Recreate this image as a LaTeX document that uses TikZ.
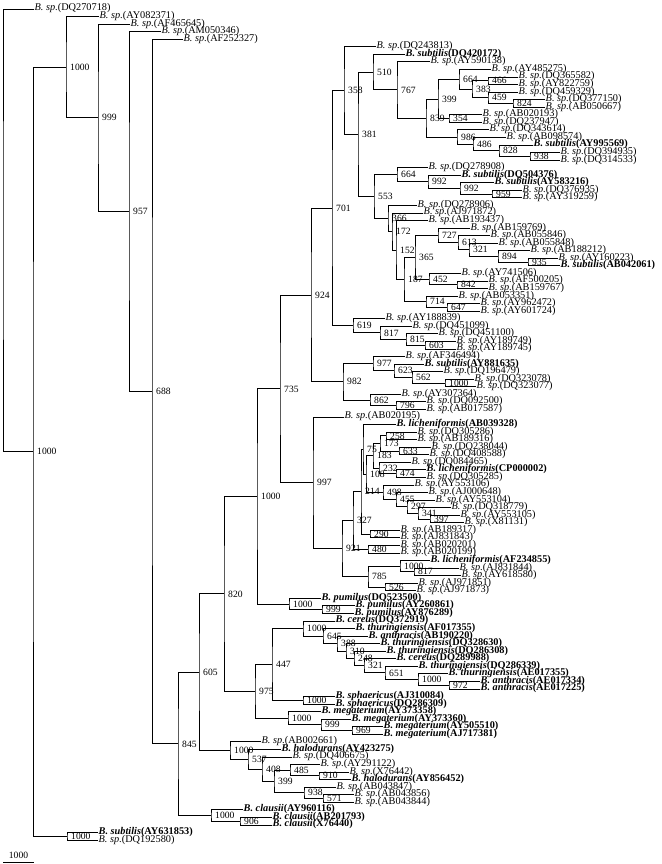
\documentclass[tikz,border=0pt]{standalone}
\usepackage{fontspec}
\setmainfont{Liberation Serif}
\usepackage{tikz}
\usetikzlibrary{calc}

\begin{document}
\begin{tikzpicture}[
    x=1pt, y=-1pt,
    branch/.style={line width=0.85pt},
    spleaf/.style={anchor=base west, inner sep=0.5pt, yshift=-2pt, font=\fontsize{10.3}{10}\selectfont},
    nameleaf/.style={spleaf},
    boot/.style={anchor=west, inner sep=0.5pt, xshift=3.5pt, font=\fontsize{9.6}{10}\selectfont}
  ]
    \useasboundingbox (0,0) rectangle (661,864);

    \foreach \i/\tx/\acc in {1/34/DQ270718, 2/99/AY082371, 3/130/AF465645, 4/161/AM050346,
        5/183/AF252327, 6/376/DQ243813, 8/430/AY590138, 9/491/AY485275, 10/518/DQ365582,
        11/518/AY822759, 12/518/DQ459329, 13/545/DQ377150, 14/545/AB050667, 15/482/AB020193,
        16/482/DQ237947, 17/489/DQ343614, 18/506/AB098574, 20/560/DQ394935, 21/560/DQ314533,
        22/428/DQ278908, 25/522/DQ376935, 26/522/AY319259, 27/417/DQ278906, 28/423/AJ971872,
        29/428/AB193437, 30/470/AB159769, 31/490/AB055846, 32/498/AB055848, 33/530/AB188212,
        34/558/AY160223, 36/461/AY741506, 37/488/AF500205, 38/488/AB159767, 39/458/AB053351,
        40/480/AY962472, 41/480/AY601724, 42/385/AY188839, 43/412/DQ451099, 44/438/DQ451100,
        45/456/AY189749, 46/456/AY189745, 47/405/AF346494, 49/443/DQ196479, 50/474/DQ323078,
        51/476/DQ323077, 52/401/AY307364, 53/426/DQ092500, 54/426/AB017587, 55/344/AB020195,
        57/417/DQ305286, 58/417/AB189316, 59/431/DQ238044, 60/429/DQ408588, 61/411/DQ084465,
        63/426/DQ305285, 64/414/AY553106, 65/428/AJ000648, 66/435/AY553104, 67/451/DQ318779,
        68/460/AY553105, 69/464/X81131, 70/400/AB189317, 71/400/AJ831843, 72/400/AB020201,
        73/400/AB020199, 75/459/AJ831844, 76/461/AY618580, 77/418/AJ971851, 78/416/AJ971873,
        98/261/AB002661, 100/292/DQ406675, 101/320/AY291122, 102/349/X76442, 104/336/AB043847,
        105/354/AB043856, 106/354/AB043844, 111/98/DQ192580}
    {
      \coordinate (l\i) at (\tx, {9+(\i-1)*7.555});
      \node[spleaf] (t\i) at (l\i) {\textit{B. sp.}(\acc)};
    }

    \foreach \i/\tx/\sp/\acc in {7/405/subtilis/DQ420172, 19/533/subtilis/AY995569,
        23/461/subtilis/DQ504376, 24/494/subtilis/AY583216, 35/560/subtilis/AB042061,
        48/424/subtilis/AY881635, 56/396/licheniformis/AB039328, 62/426/licheniformis/CP000002,
        74/430/licheniformis/AF234855, 79/321/pumilus/DQ523500, 80/355/pumilus/AY260861,
        81/354/pumilus/AY876289, 82/335/cereus/DQ372919, 83/355/thuringiensis/AF017355,
        84/368/anthracis/AB190220, 85/380/thuringiensis/DQ328630, 86/386/thuringiensis/DQ286308,
        87/396/cereus/DQ289988, 88/418/thuringiensis/DQ286339, 89/448/thuringiensis/AE017355,
        90/480/anthracis/AE017334, 91/480/anthracis/AE017225, 92/335/sphaericus/AJ310084,
        93/335/sphaericus/DQ286309, 94/321/megaterium/AY373358, 95/351/megaterium/AY373360,
        96/383/megaterium/AY505510, 97/383/megaterium/AJ717381, 99/281/halodurans/AY423275,
        103/351/halodurans/AY856452, 107/243/clausii/AY960116, 108/272/clausii/AB201793,
        109/272/clausii/X76440, 110/98/subtilis/AY631853}
    {
      \coordinate (l\i) at (\tx, {9+(\i-1)*7.555});
      \node[nameleaf] (t\i) at (l\i) {\textbf{\textit{B. \sp}(\acc)}};
    }

    \foreach \nm/\px/\ka/\kb/\bs in {n466/488/l10/l11/466, n824/513/l13/l14/824,
        n459/488/l12/n824/459, n383/472/n466/n459/383, n664a/459/l9/n383/664,
        n354/449/l15/l16/354, n399a/438/n664a/n354/399, n938a/530/l20/l21/938,
        n828/499/l19/n938a/828, n486/473/l18/n828/486, n986/457/l17/n486/986,
        n839/426/n399a/n986/839, n767/397/l8/n839/767, n510/373/l7/n767/510,
        n959/492/l25/l26/959, n992b/460/l24/n959/992, n992a/428/l23/n992b/992,
        n664b/397/l22/n992a/664, n935/528/l34/l35/935, n894/498/l33/n935/894,
        n321a/469/l32/n894/321, n613/458/l31/n321a/613, n727/438/l30/n613/727,
        n842/457/l37/l38/842, n452/429/l36/n842/452, n647/447/l40/l41/647,
        n714/426/l39/n647/714, n365/415/n727/n452/365, n187/404/n365/n714/187,
        n152/396/l29/n187/152, n172/392/l28/n152/172, n366/388/l27/n172/366,
        n553/374/n664b/n366/553, n381/358/n510/n553/381, n358/344/l6/n381/358,
        n603/425/l45/l46/603, n815/406/l44/n603/815, n817a/380/l43/n815/817,
        n619/353/l42/n817a/619, n701/332/n358/n619/701, n1000a/445/l50/l51/1000,
        n562/412/l49/n1000a/562, n623/394/l48/n562/623, n977/373/l47/n623/977,
        n796/396/l53/l54/796, n862/370/l52/n796/862, n982/343/n977/n862/982,
        n924/311/n701/n982/924,
        n258/386/l57/l58/258, n633/399/l59/l60/633, n173/380/n258/n633/173,
        n474/396/l62/l63/474, n232/379/l61/n474/232, n183/373/n173/n232/183,
        n397/430/l68/l69/397, n341/418/l67/n397/341, n297/407/l66/n341/297,
        n455/396/l65/n297/455, n498/383/l64/n455/498, n108/366/n183/n498/108,
        n75/363/l56/n108/75, n290/370/l70/l71/290, n214/361/n75/n290/214,
        n480/368/l72/l73/480, n327/353/n214/n480/327, n817b/414/l75/l76/817,
        n1000b/400/l74/n817b/1000, n526/385/l77/l78/526, n785/368/n1000b/n526/785,
        n921/342/n327/n785/921, n997/313/l55/n921/997, n735/280/n924/n997/735,
        n999a/322/l80/l81/999, n1000c/289/l79/n999a/1000, n1000d/257/n735/n1000c/1000,
        n972/449/l90/l91/972, n1000e/418/l89/n972/1000, n651/385/l88/n1000e/651,
        n321b/364/l87/n651/321, n248/354/l86/n321b/248, n310/346/l85/n248/310,
        n388/337/l84/n310/388, n645/323/l83/n388/645, n1000f/303/l82/n645/1000,
        n1000g/303/l92/l93/1000, n447/272/n1000f/n1000g/447, n969/352/l96/l97/969,
        n999b/321/l95/n969/999, n1000h/288/l94/n999b/1000, n975/255/n447/n1000h/975,
        n820/224/n1000d/n975/820,
        n910/319/l102/l103/910, n485/290/l101/n910/485, n571/323/l105/l106/571,
        n938b/304/l104/n571/938, n399b/274/n485/n938b/399, n408/262/l100/n399b/408,
        n537/248/l99/n408/537, n1000i/230/l98/n537/1000, n605/199/n820/n1000i/605,
        n906/240/l108/l109/906, n1000j/211/l107/n906/1000, n845/178/n605/n1000j/845,
        n688/152/l5/n845/688, n957/129/l4/n688/957, n999c/98/l3/n957/999,
        n1000k/66/l2/n999c/1000, n1000l/67/l110/l111/1000, n1000m/33/n1000k/n1000l/1000}
    {
      \path let \p1=(\ka), \p2=(\kb) in coordinate (\nm) at ({\px pt},{(\y1+\y2)/2});
      \draw[branch] (\ka) -| (\nm) |- (\kb);
      \node[boot] (b\nm) at (\nm) {\bs};
    }

    \path let \p1=(l1), \p2=(n1000m) in coordinate (root) at (3pt,{(\y1+\y2)/2});
    \draw[branch] (l1) -| (root) |- (n1000m);

    \coordinate (scaleL) at (3,862);
    \coordinate (scaleR) at (34,862);
    \draw[branch] (scaleL) -- node[above=3pt, inner sep=0pt, font=\fontsize{9.6}{10}\selectfont] (scalelab) {1000} (scaleR);
  \end{tikzpicture}
\end{document}
